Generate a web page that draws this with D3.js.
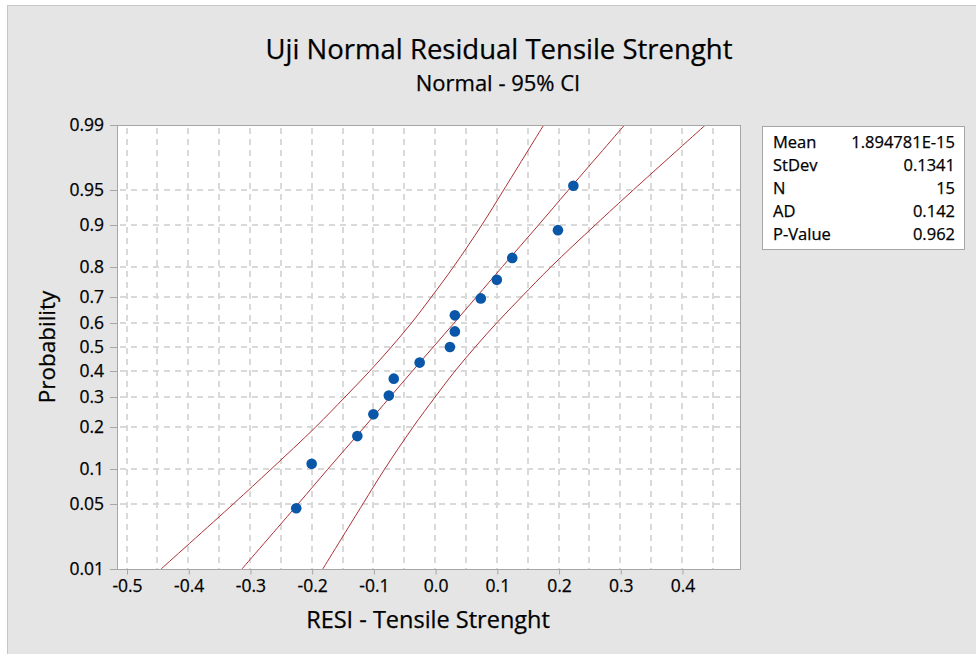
<!DOCTYPE html>
<html>
<head>
<meta charset="utf-8">
<script src="https://cdn.jsdelivr.net/npm/d3@7"></script>
<style>
	body { margin: 0; background: #fff; }
	text { font-family: "Open Sans", "Noto Sans", sans-serif; fill: #000; stroke: #000; stroke-width: 0.25px; }
</style>
</head>
<body>
<div id="chart"></div>
<script>
(function (d3) {
	'use strict';

	// DATA
	const residuals = [-0.225, -0.200, -0.126, -0.100, -0.075, -0.067, -0.025, 0.024, 0.032, 0.032, 0.074, 0.100, 0.125, 0.199, 0.224];
	const percents = [0.0455, 0.1104, 0.1753, 0.2403, 0.3052, 0.3701, 0.4351, 0.5, 0.5649, 0.6299, 0.6948, 0.7597, 0.8247, 0.8896, 0.9545];

	// fitted line and 95% CI bands, read at each probability tick
	const bandProbs = [0.01, 0.05, 0.1, 0.2, 0.3, 0.4, 0.5, 0.6, 0.7, 0.8, 0.9, 0.95, 0.99];
	const fitLine = [-0.313, -0.222, -0.174, -0.115, -0.073, -0.037, -0.003, 0.031, 0.067, 0.109, 0.168, 0.216, 0.307];
	const lowerBand = [-0.444, -0.327, -0.266, -0.194, -0.146, -0.106, -0.071, -0.038, -0.006, 0.030, 0.076, 0.111, 0.176];
	const upperBand = [-0.182, -0.117, -0.082, -0.036, 0.000, 0.032, 0.065, 0.100, 0.140, 0.188, 0.260, 0.321, 0.438];

	const xTicks = [-0.5, -0.4, -0.3, -0.2, -0.1, 0.0, 0.1, 0.2, 0.3, 0.4];
	const xGrid = [-0.5, -0.45, -0.4, -0.35, -0.3, -0.25, -0.2, -0.15, -0.1, -0.05, 0, 0.05, 0.1, 0.15, 0.2, 0.25, 0.3, 0.35, 0.4, 0.45];
	const yTicks = [0.01, 0.05, 0.1, 0.2, 0.3, 0.4, 0.5, 0.6, 0.7, 0.8, 0.9, 0.95, 0.99];

	const statLabels = ["Mean", "StDev", "N", "AD", "P-Value"];
	const statValues = ["1.894781E-15", "0.1341", "15", "0.142", "0.962"];

	// inverse normal CDF (Acklam)
	const qnorm = p => {
		const a = [-39.69683028665376, 220.9460984245205, -275.9285104469687, 138.3577518672690, -30.66479806614716, 2.506628277459239];
		const b = [-54.47609879822406, 161.5858368580409, -155.6989798598866, 66.80131188771972, -13.28068155288572];
		const c = [-0.007784894002430293, -0.3223964580411365, -2.400758277161838, -2.549732539343734, 4.374664141464968, 2.938163982698783];
		const dd = [0.007784695709041462, 0.3224671290700398, 2.445134137142996, 3.754408661907416];
		const pl = 0.02425;
		let q, r;
		if (p < pl) {
			q = Math.sqrt(-2 * Math.log(p));
			return (((((c[0] * q + c[1]) * q + c[2]) * q + c[3]) * q + c[4]) * q + c[5]) / ((((dd[0] * q + dd[1]) * q + dd[2]) * q + dd[3]) * q + 1);
		}
		if (p > 1 - pl) {
			q = Math.sqrt(-2 * Math.log(1 - p));
			return -(((((c[0] * q + c[1]) * q + c[2]) * q + c[3]) * q + c[4]) * q + c[5]) / ((((dd[0] * q + dd[1]) * q + dd[2]) * q + dd[3]) * q + 1);
		}
		q = p - 0.5;
		r = q * q;
		return (((((a[0] * r + a[1]) * r + a[2]) * r + a[3]) * r + a[4]) * r + a[5]) * q / (((((b[0] * r + b[1]) * r + b[2]) * r + b[3]) * r + b[4]) * r + 1);
	};

	const W = 976, H = 654;
	const plot = { left: 117, right: 740, top: 125, bottom: 569 };

	const svg = d3.select("#chart").append("svg")
		.attr("width", W).attr("height", H);

	// background frame
	svg.append("rect").attr("width", W).attr("height", H).attr("fill", "#fff");
	svg.append("rect")
		.attr("x", 7.5).attr("y", 5.5).attr("width", W).attr("height", H)
		.attr("fill", "#e5e5e5").attr("stroke", "#c6c6c6");

	// scales
	const xScale = d3.scaleLinear().domain([-0.5154, 0.494]).range([plot.left, plot.right]);
	const zScale = d3.scaleLinear().domain([qnorm(0.01), qnorm(0.99)]).range([plot.bottom, plot.top]);
	const yScale = p => zScale(qnorm(p));

	svg.append("rect")
		.attr("x", plot.left).attr("y", plot.top)
		.attr("width", plot.right - plot.left).attr("height", plot.bottom - plot.top)
		.attr("fill", "#fff");

	// gridlines
	const grid = svg.append("g").attr("stroke", "#d9d9d9").attr("stroke-width", 2).attr("stroke-dasharray", "6,5");
	grid.selectAll("line.v").data(xGrid).enter().append("line")
		.attr("x1", d => Math.round(xScale(d))).attr("x2", d => Math.round(xScale(d)))
		.attr("y1", plot.top + 3).attr("y2", plot.bottom);
	grid.selectAll("line.h").data(yTicks.slice(1, -1)).enter().append("line")
		.attr("x1", plot.left + 3).attr("x2", plot.right)
		.attr("y1", d => Math.round(yScale(d))).attr("y2", d => Math.round(yScale(d)));

	// clip for curves
	svg.append("clipPath").attr("id", "clip").append("rect")
		.attr("x", plot.left).attr("y", plot.top)
		.attr("width", plot.right - plot.left).attr("height", plot.bottom - plot.top);

	const line = d3.line()
		.x(d => xScale(d[0]))
		.y(d => yScale(d[1]))
		.curve(d3.curveCatmullRom);

	const curves = svg.append("g").attr("clip-path", "url(#clip)");
	[lowerBand, fitLine, upperBand].forEach(arr => {
		curves.append("path")
			.attr("d", line(arr.map((v, i) => [v, bandProbs[i]])))
			.attr("fill", "none").attr("stroke", "#ad3035").attr("stroke-width", 1);
	});

	// points
	svg.append("g").selectAll("circle").data(residuals).enter().append("circle")
		.attr("cx", d => xScale(d))
		.attr("cy", (d, i) => yScale(percents[i]))
		.attr("r", 5.3)
		.attr("fill", "#0a56a8");

	// plot frame
	svg.append("rect")
		.attr("x", plot.left + 0.5).attr("y", plot.top + 0.5)
		.attr("width", plot.right - plot.left).attr("height", plot.bottom - plot.top)
		.attr("fill", "none").attr("stroke", "#a6a6a6");

	// X axis
	const xAxis = d3.axisBottom(xScale).tickValues(xTicks).tickSize(5).tickPadding(5)
		.tickFormat(d3.format(".1f"));
	const xAxisG = svg.append("g").attr("transform", `translate(0.5,${plot.bottom + 0.5})`).call(xAxis);
	xAxisG.select(".domain").remove();
	xAxisG.selectAll("line").attr("stroke", "#a6a6a6");
	xAxisG.selectAll("text").attr("font-size", 17.5).attr("fill", "#000")
		.attr("font-family", "'Open Sans', sans-serif")
		.text(d => d3.format(".1f")(d).replace("−", "-"));

	// Y axis
	const yAxisG = svg.append("g");
	yAxisG.selectAll("line").data(yTicks).enter().append("line")
		.attr("x1", plot.left - 7).attr("x2", plot.left)
		.attr("y1", d => Math.round(yScale(d)) + 0.5).attr("y2", d => Math.round(yScale(d)) + 0.5)
		.attr("stroke", "#a6a6a6");
	yAxisG.selectAll("text").data(yTicks).enter().append("text")
		.attr("x", plot.left - 13)
		.attr("y", d => yScale(d))
		.attr("dy", "0.35em")
		.attr("text-anchor", "end")
		.attr("font-size", 17.5)
		.text(d => d);

	// titles
	svg.append("text").attr("x", 499).attr("y", 59).attr("text-anchor", "middle")
		.attr("font-size", 27.5).text("Uji Normal Residual Tensile Strenght");
	svg.append("text").attr("x", 498).attr("y", 91).attr("text-anchor", "middle")
		.attr("font-size", 22).text("Normal - 95% CI");
	svg.append("text").attr("x", 428).attr("y", 628).attr("text-anchor", "middle")
		.attr("font-size", 23.5).text("RESI - Tensile Strenght");
	svg.append("text").attr("transform", "translate(55,347) rotate(-90)").attr("text-anchor", "middle")
		.attr("font-size", 22.5).text("Probability");

	// stats box
	const box = svg.append("g");
	box.append("rect").attr("x", 762.5).attr("y", 126.5).attr("width", 202).attr("height", 123)
		.attr("fill", "#fff").attr("stroke", "#a6a6a6");
	statLabels.forEach((s, i) => {
		box.append("text").attr("x", 773).attr("y", 142 + i * 23).attr("dy", "0.35em")
			.attr("font-size", 16.5).text(s);
		box.append("text").attr("x", 955).attr("y", 142 + i * 23).attr("dy", "0.35em")
			.attr("text-anchor", "end").attr("font-size", 16.5).text(statValues[i]);
	});
}(d3));
</script>
</body>
</html>
